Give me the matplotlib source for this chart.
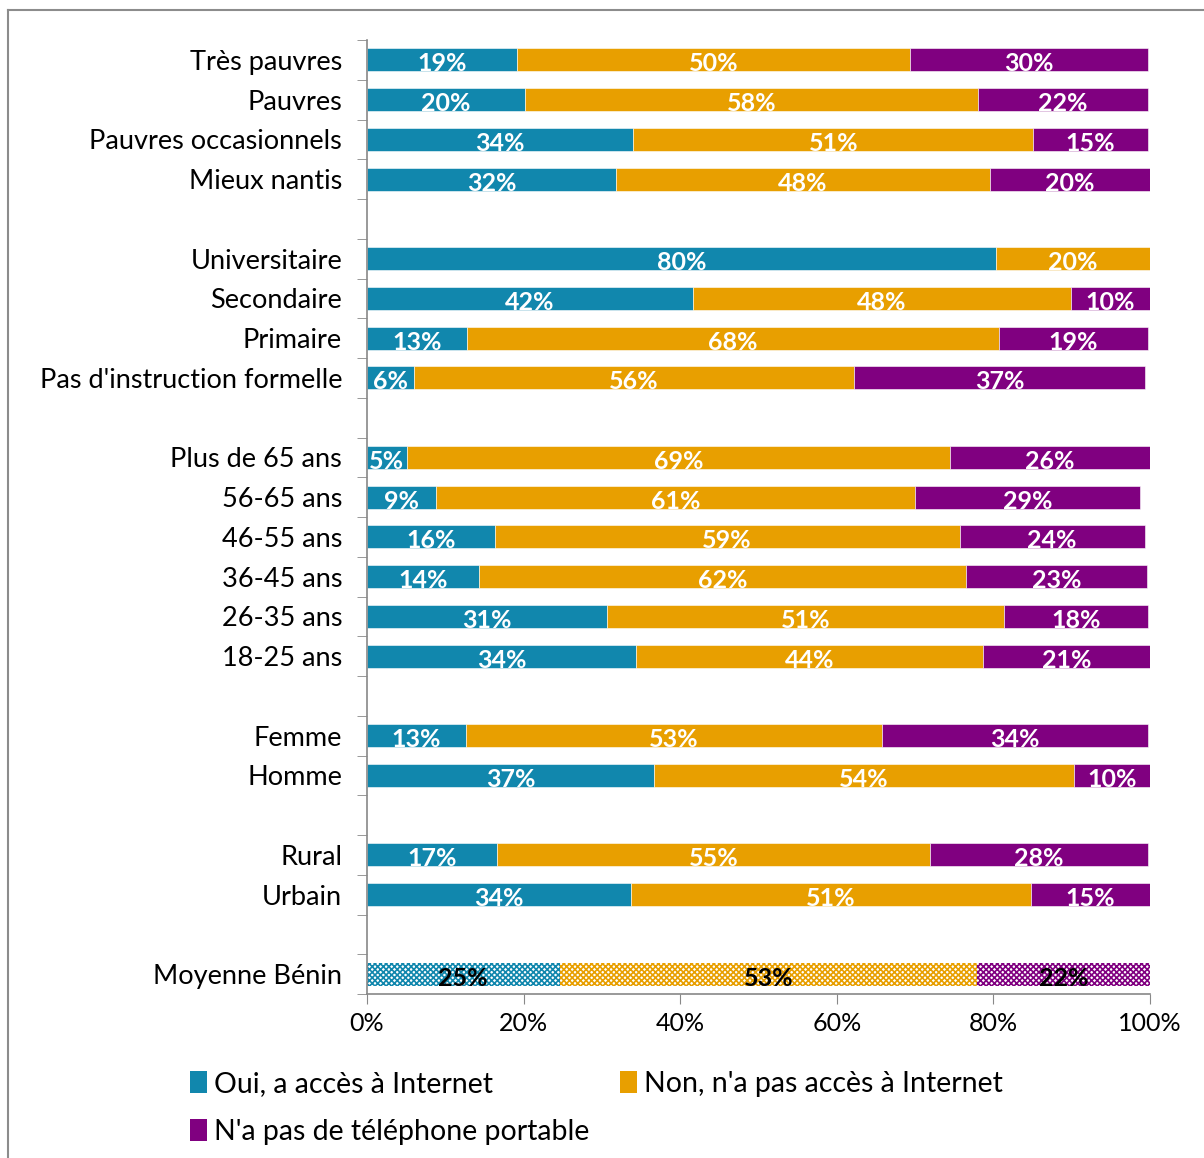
import matplotlib.pyplot as plt
import matplotlib.lines as mlines
import numpy as np

plt.rcParams['font.family'] = ['Lato', 'DejaVu Sans']
plt.rcParams['hatch.linewidth'] = 1.2

# categories from top to bottom, None = blank separator row
categories = ["Très pauvres", "Pauvres", "Pauvres occasionnels", "Mieux nantis", None,
              "Universitaire", "Secondaire", "Primaire", "Pas d'instruction formelle", None,
              "Plus de 65 ans", "56-65 ans", "46-55 ans", "36-45 ans", "26-35 ans", "18-25 ans", None,
              "Femme", "Homme", None,
              "Rural", "Urbain", None,
              "Moyenne Bénin"]

# % per row (None rows skipped)
oui = [19.2, 20.2, 34.0, 31.8, 80.3, 41.6, 12.8, 6.0, 5.1, 8.8, 16.3, 14.3, 30.6, 34.4,
       12.6, 36.7, 16.6, 33.7, 24.6]
non = [50.1, 57.8, 51.1, 47.8, 19.7, 48.3, 67.9, 56.2, 69.4, 61.2, 59.4, 62.2, 50.8, 44.3,
       53.2, 53.6, 55.3, 51.1, 53.3]
sans_tel = [30.4, 21.7, 14.6, 20.4, 0.0, 10.1, 19.0, 37.2, 25.5, 28.7, 23.6, 23.1, 18.3, 21.3,
            33.9, 9.7, 27.8, 15.2, 22.1]

series = [oui, non, sans_tel]
names = ["Oui, a accès à Internet", "Non, n'a pas accès à Internet", "N'a pas de téléphone portable"]
colors = ["#1187AD", "#E89F00", "#800080"]

ypos = [i for i, c in enumerate(categories) if c is not None]
labels = [c for c in categories if c is not None]

fig = plt.figure(figsize=(12.04, 11.58), dpi=100)
ax = fig.add_axes([367 / 1204, 1 - 994 / 1158, 783 / 1204, 954 / 1158])

left = np.zeros(len(ypos))
for vals, name, col in zip(series, names, colors):
    vals = np.array(vals)
    for k, (y, v) in enumerate(zip(ypos, vals)):
        if v <= 0:
            continue
        if labels[k] == "Moyenne Bénin":
            ax.barh(y, v, left=left[k], height=0.58, color="white", hatch="xxxxxx",
                    edgecolor=col, linewidth=0)
            tcol = "black"
        else:
            ax.barh(y, v, left=left[k], height=0.58, color=col,
                    edgecolor="white", linewidth=0.4)
            tcol = "white"
        ax.text(left[k] + v / 2, y + 0.1, "{:.0f}%".format(v), ha="center", va="center",
                color=tcol, fontsize=18, fontweight="bold")
    left += vals

# legend proxies
handles = {}
for name, col in zip(names, colors):
    handles[name] = ax.barh([np.nan], [0], color=col, label=name)

ax.set_xlim(0, 100)
ax.set_ylim(len(categories) - 0.5, -0.5)
ax.set_xticks(np.arange(0, 101, 20))
ax.set_xticklabels(["{}%".format(t) for t in range(0, 101, 20)], fontsize=18)
ax.set_yticks(ypos)
ax.set_yticklabels(labels, fontsize=19.5)
ax.set_yticks(np.arange(-0.5, len(categories), 1), minor=True)
ax.tick_params(axis="y", which="major", length=0, pad=18)
ax.tick_params(axis="y", which="minor", length=7, color="#888888", direction="out")
ax.tick_params(axis="x", length=7, color="#888888", direction="out", pad=6)
for s in ["top", "right"]:
    ax.spines[s].set_visible(False)
for s in ["left", "bottom"]:
    ax.spines[s].set_color("#888888")
    ax.spines[s].set_linewidth(1.2)

order = [names[0], names[2], names[1]]
ax.legend([handles[n] for n in order], order, loc="upper left",
          bbox_to_anchor=(-0.226, -0.081), ncol=2, frameon=False,
          fontsize=20.5, handlelength=0.6, handleheight=0.8, handletextpad=0.25,
          columnspacing=1.05, labelspacing=0.75, borderpad=0, borderaxespad=0)

# outer frame
fig.add_artist(mlines.Line2D([8 / 1204, 8 / 1204], [0, 1 - 10 / 1158], color="#8c8c8c", lw=1.5))
fig.add_artist(mlines.Line2D([8 / 1204, 1], [1 - 10 / 1158, 1 - 10 / 1158], color="#8c8c8c", lw=1.5))

plt.savefig("out.png", dpi=100)
